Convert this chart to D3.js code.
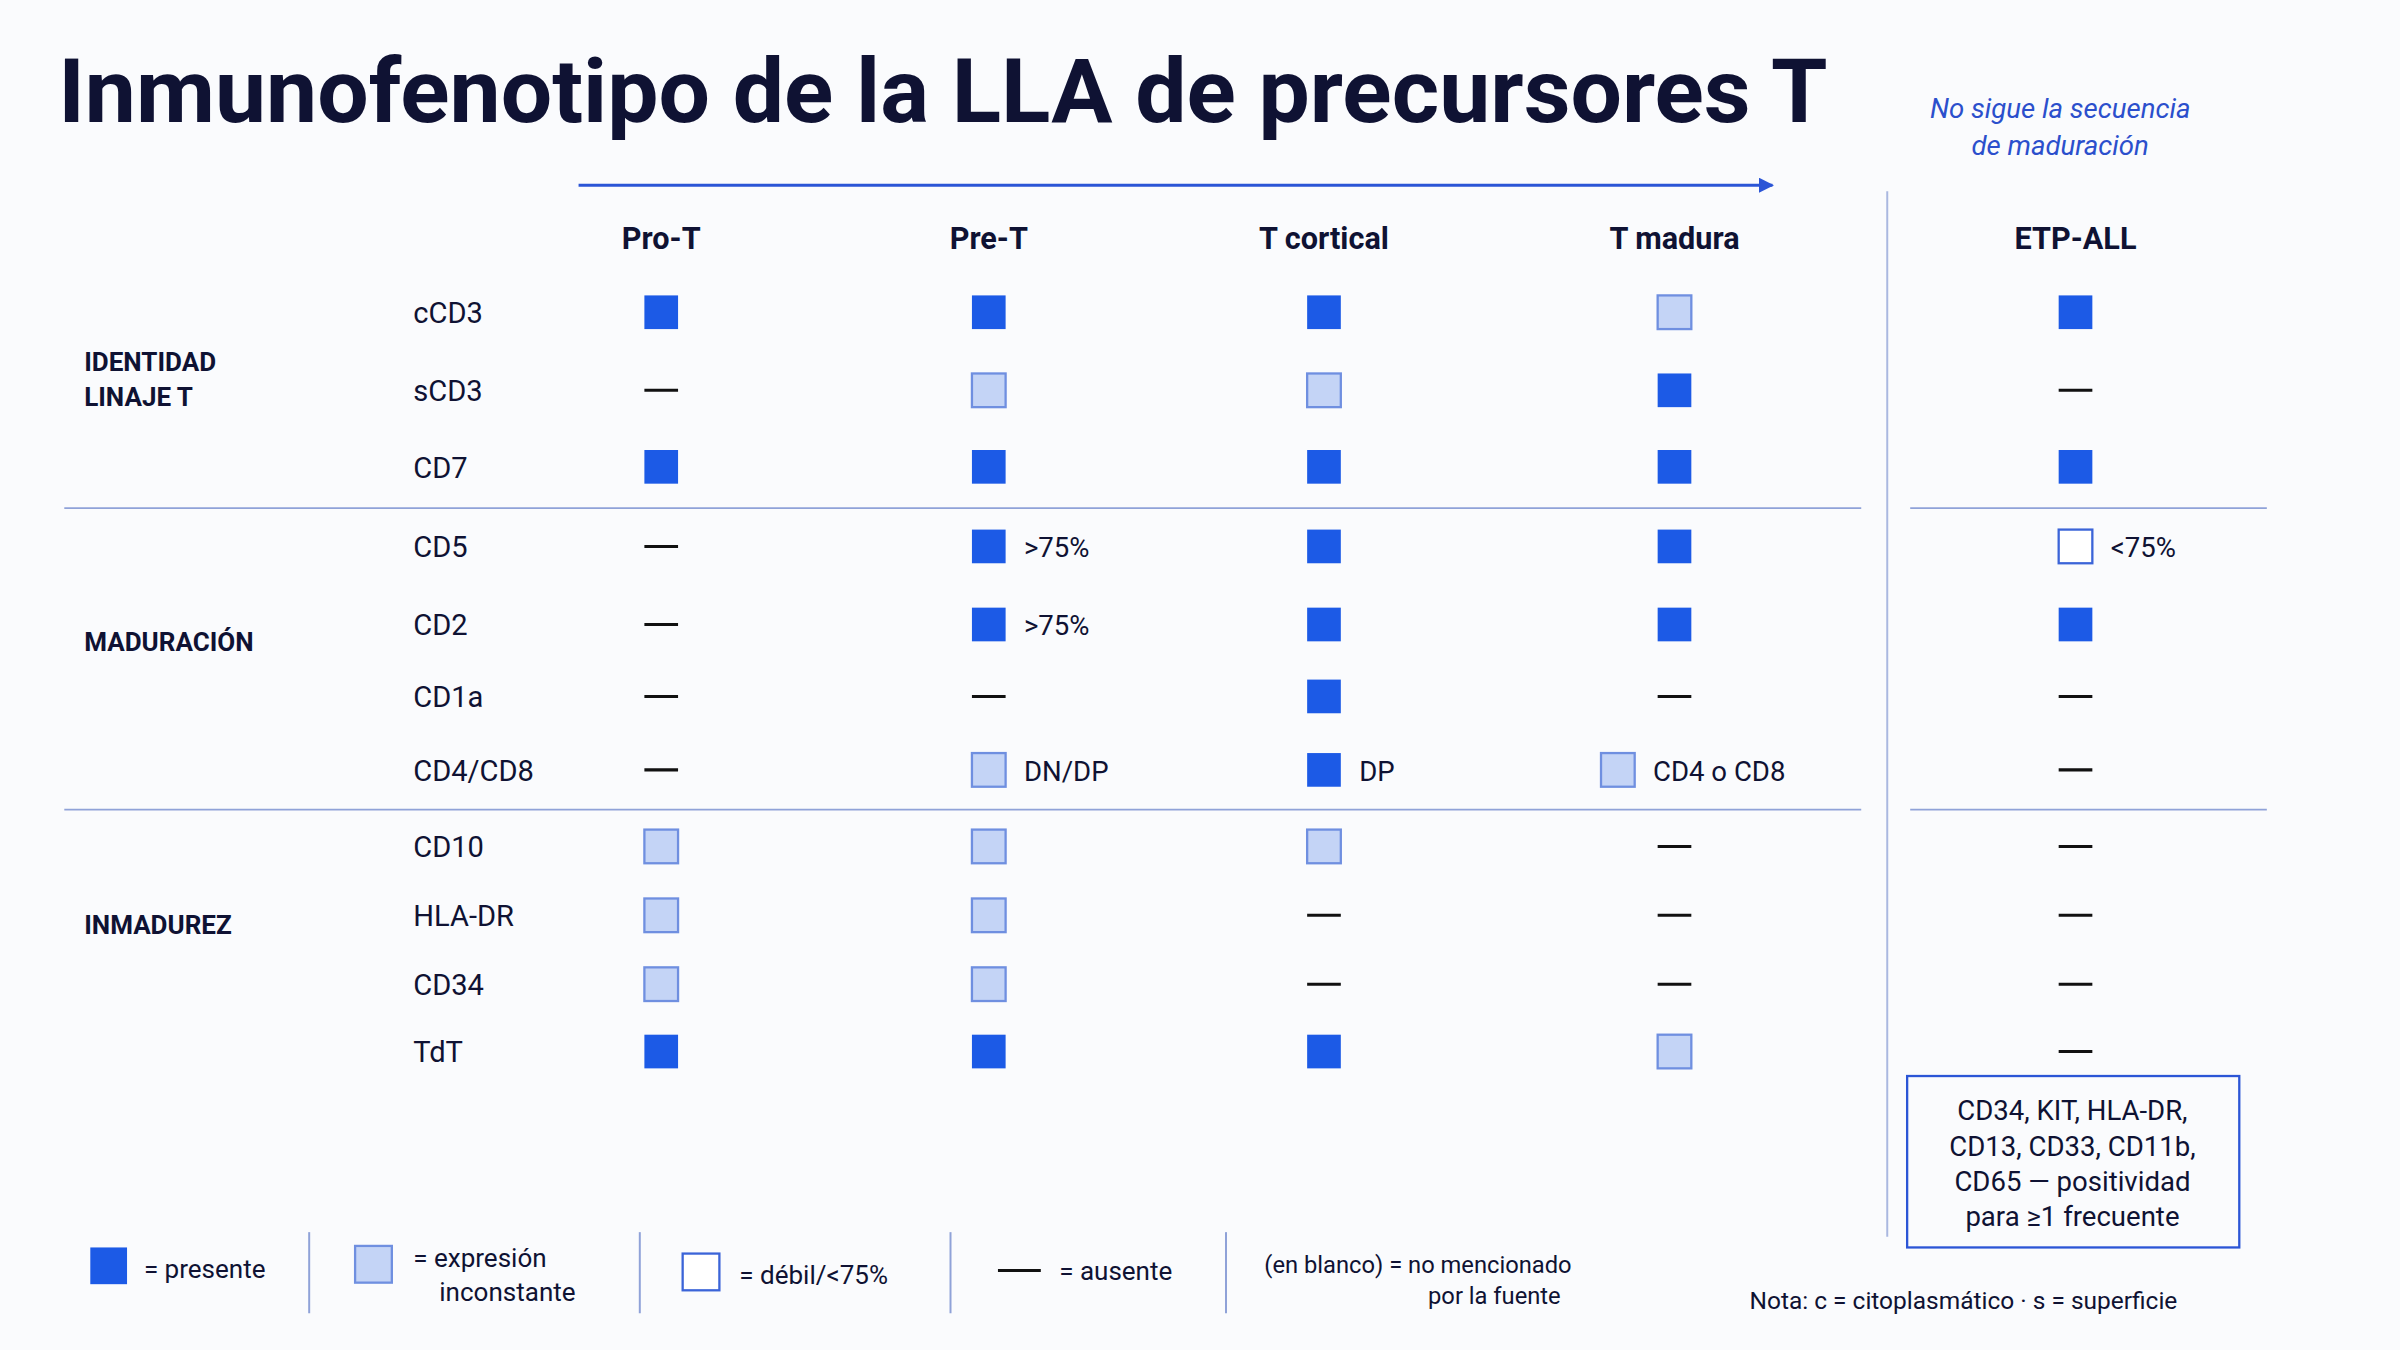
<!DOCTYPE html>
<html>
<head>
<meta charset="utf-8">
<style>
  body { margin: 0; background: #fafbfd; }
  svg { font-family: Roboto, "Noto Sans", sans-serif; }
</style>
<script src="https://d3js.org/d3.v7.min.js"></script>
</head>
<body>
<svg id="chart" width="2400" height="1350" viewBox="0 0 1568 882"></svg>
<script>
// P = presente, I = inconstante, W = débil/<75%, A = ausente
const stages = ["Pro-T", "Pre-T", "T cortical", "T madura", "ETP-ALL"];
const markers = ["cCD3", "sCD3", "CD7", "CD5", "CD2", "CD1a", "CD4/CD8", "CD10", "HLA-DR", "CD34", "TdT"];
const proT      = ["P", "A", "P", "A", "A", "A", "A", "I", "I", "I", "P"];
const preT      = ["P", "I", "P", "P", "P", "A", "I", "I", "I", "I", "P"];
const tCortical = ["P", "I", "P", "P", "P", "P", "P", "I", "A", "A", "P"];
const tMadura   = ["I", "P", "P", "P", "P", "A", "I", "A", "A", "A", "I"];
const etpAll    = ["P", "A", "P", "W", "P", "A", "A", "A", "A", "A", "A"];
const notes = [
  {stage: "Pre-T", marker: "CD5", text: ">75%"},
  {stage: "Pre-T", marker: "CD2", text: ">75%"},
  {stage: "Pre-T", marker: "CD4/CD8", text: "DN/DP"},
  {stage: "T cortical", marker: "CD4/CD8", text: "DP"},
  {stage: "T madura", marker: "CD4/CD8", text: "CD4 o CD8", shift: -37},
  {stage: "ETP-ALL", marker: "CD5", text: "<75%"}
];
const groups = [
  {lines: ["IDENTIDAD", "LINAJE T"], y: 248},
  {lines: ["MADURACIÓN"], y: 419},
  {lines: ["INMADUREZ"], y: 604}
];
const boxLines = ["CD34, KIT, HLA-DR,", "CD13, CD33, CD11b,", "CD65 — positividad", "para ≥1 frecuente"];

const cols = [proT, preT, tCortical, tMadura, etpAll];
const svg = d3.select("#chart");
const x = d3.scaleOrdinal().domain(stages).range([432, 646, 865, 1094, 1356]);
const y = d3.scaleOrdinal().domain(markers).range([204, 255, 305, 357, 408, 455, 503, 553, 598, 643, 687]);
const dark = "#0f1233", blue = "#1c5ae6", sz = 22;

svg.append("rect").attr("width", 1568).attr("height", 882).attr("fill", "#fafbfd");

svg.append("text").attr("x", 38).attr("y", 80).attr("font-size", 58).attr("font-weight", 700)
  .attr("fill", dark).attr("textLength", 1156).attr("lengthAdjust", "spacingAndGlyphs")
  .text("Inmunofenotipo de la LLA de precursores T");
svg.selectAll(".sub").data(["No sigue la secuencia", "de maduración"]).join("text")
  .attr("x", 1346).attr("y", (d, i) => 77 + i * 24).attr("text-anchor", "middle")
  .attr("font-size", 18).attr("font-style", "italic").attr("fill", "#2b4fcc").text(d => d);

// arrow
svg.append("defs").append("marker").attr("id", "ah").attr("viewBox", "0 0 10 10")
  .attr("refX", 9).attr("refY", 5).attr("markerWidth", 10).attr("markerHeight", 10)
  .attr("markerUnits", "userSpaceOnUse").attr("orient", "auto")
  .append("path").attr("d", "M0,0L10,5L0,10Z").attr("fill", "#2b55d6");
svg.append("line").attr("x1", 378).attr("x2", 1158).attr("y1", 121).attr("y2", 121)
  .attr("stroke", "#2b55d6").attr("stroke-width", 2).attr("marker-end", "url(#ah)");

// headers
svg.selectAll(".hdr").data(stages).join("text")
  .attr("x", d => x(d)).attr("y", 163).attr("text-anchor", "middle")
  .attr("font-size", 20).attr("font-weight", 700).attr("fill", dark).text(d => d);

// separators
svg.append("line").attr("x1", 1233).attr("x2", 1233).attr("y1", 125).attr("y2", 808)
  .attr("stroke", "#aab8e0").attr("stroke-width", 1.3);
[332, 529].forEach(yy => {
  svg.append("line").attr("x1", 42).attr("x2", 1216).attr("y1", yy).attr("y2", yy).attr("stroke", "#8fa2d8").attr("stroke-width", 1.2);
  svg.append("line").attr("x1", 1248).attr("x2", 1481).attr("y1", yy).attr("y2", yy).attr("stroke", "#8fa2d8").attr("stroke-width", 1.2);
});

// labels
svg.selectAll(".row").data(markers).join("text")
  .attr("x", 270).attr("y", d => y(d) + 7).attr("font-size", 19).attr("fill", dark).text(d => d);
groups.forEach(g => {
  g.lines.forEach((l, i) => svg.append("text").attr("x", 55)
    .attr("y", g.y + 6 + (i - (g.lines.length - 1) / 2) * 23)
    .attr("font-size", 17).attr("font-weight", 700).attr("fill", dark).text(l));
});

function drawMark(g, code, cx, cy, s) {
  if (code === "A") {
    g.append("line").attr("x1", cx - s / 2).attr("x2", cx + s / 2).attr("y1", cy).attr("y2", cy)
      .attr("stroke", "#111").attr("stroke-width", 2);
    return;
  }
  const r = g.append("rect").attr("x", cx - s / 2).attr("y", cy - s / 2).attr("width", s).attr("height", s);
  if (code === "P") r.attr("fill", blue);
  if (code === "I") r.attr("fill", "#c4d4f6").attr("stroke", "#6f8fe0").attr("stroke-width", 1.5);
  if (code === "W") r.attr("fill", "#fff").attr("stroke", "#3b64d8").attr("stroke-width", 1.5);
}

const cells = svg.append("g");
stages.forEach((s, si) => markers.forEach((m, mi) => {
  const n = notes.find(d => d.stage === s && d.marker === m);
  drawMark(cells, cols[si][mi], x(s) + (n && n.shift ? n.shift : 0), y(m), sz);
}));
svg.selectAll(".note").data(notes).join("text")
  .attr("x", d => x(d.stage) + (d.shift || 0) + 23).attr("y", d => y(d.marker) + 7)
  .attr("font-size", 18).attr("fill", dark).text(d => d.text);

// ETP box
svg.append("rect").attr("x", 1246).attr("y", 703).attr("width", 217).attr("height", 112)
  .attr("fill", "none").attr("stroke", "#2b55d6").attr("stroke-width", 1.5);
svg.selectAll(".box").data(boxLines).join("text")
  .attr("x", 1354).attr("y", (d, i) => 732 + i * 23).attr("text-anchor", "middle")
  .attr("font-size", 18).attr("fill", dark).text(d => d);

// legend
const leg = svg.append("g");
drawMark(leg, "P", 71, 827, 24);
drawMark(leg, "I", 244, 826, 24);
drawMark(leg, "W", 458, 831, 24);
leg.append("line").attr("x1", 652).attr("x2", 680).attr("y1", 830).attr("y2", 830).attr("stroke", "#111").attr("stroke-width", 2);
[202, 418, 621, 801].forEach(xx => leg.append("line").attr("x1", xx).attr("x2", xx).attr("y1", 805).attr("y2", 858).attr("stroke", "#8fa2d8").attr("stroke-width", 1.3));
const lt = (t, xx, yy, fs) => leg.append("text").attr("x", xx).attr("y", yy).attr("font-size", fs || 17).attr("fill", dark).text(t);
lt("= presente", 94, 835);
lt("= expresión", 270, 828);
lt("inconstante", 287, 850);
lt("= débil/<75%", 483, 839);
lt("= ausente", 692, 836);
lt("(en blanco) = no mencionado", 826, 832, 15.5);
lt("por la fuente", 933, 852, 15.5);
lt("Nota: c = citoplasmático · s = superficie", 1143, 855, 16);
</script>
</body>
</html>
